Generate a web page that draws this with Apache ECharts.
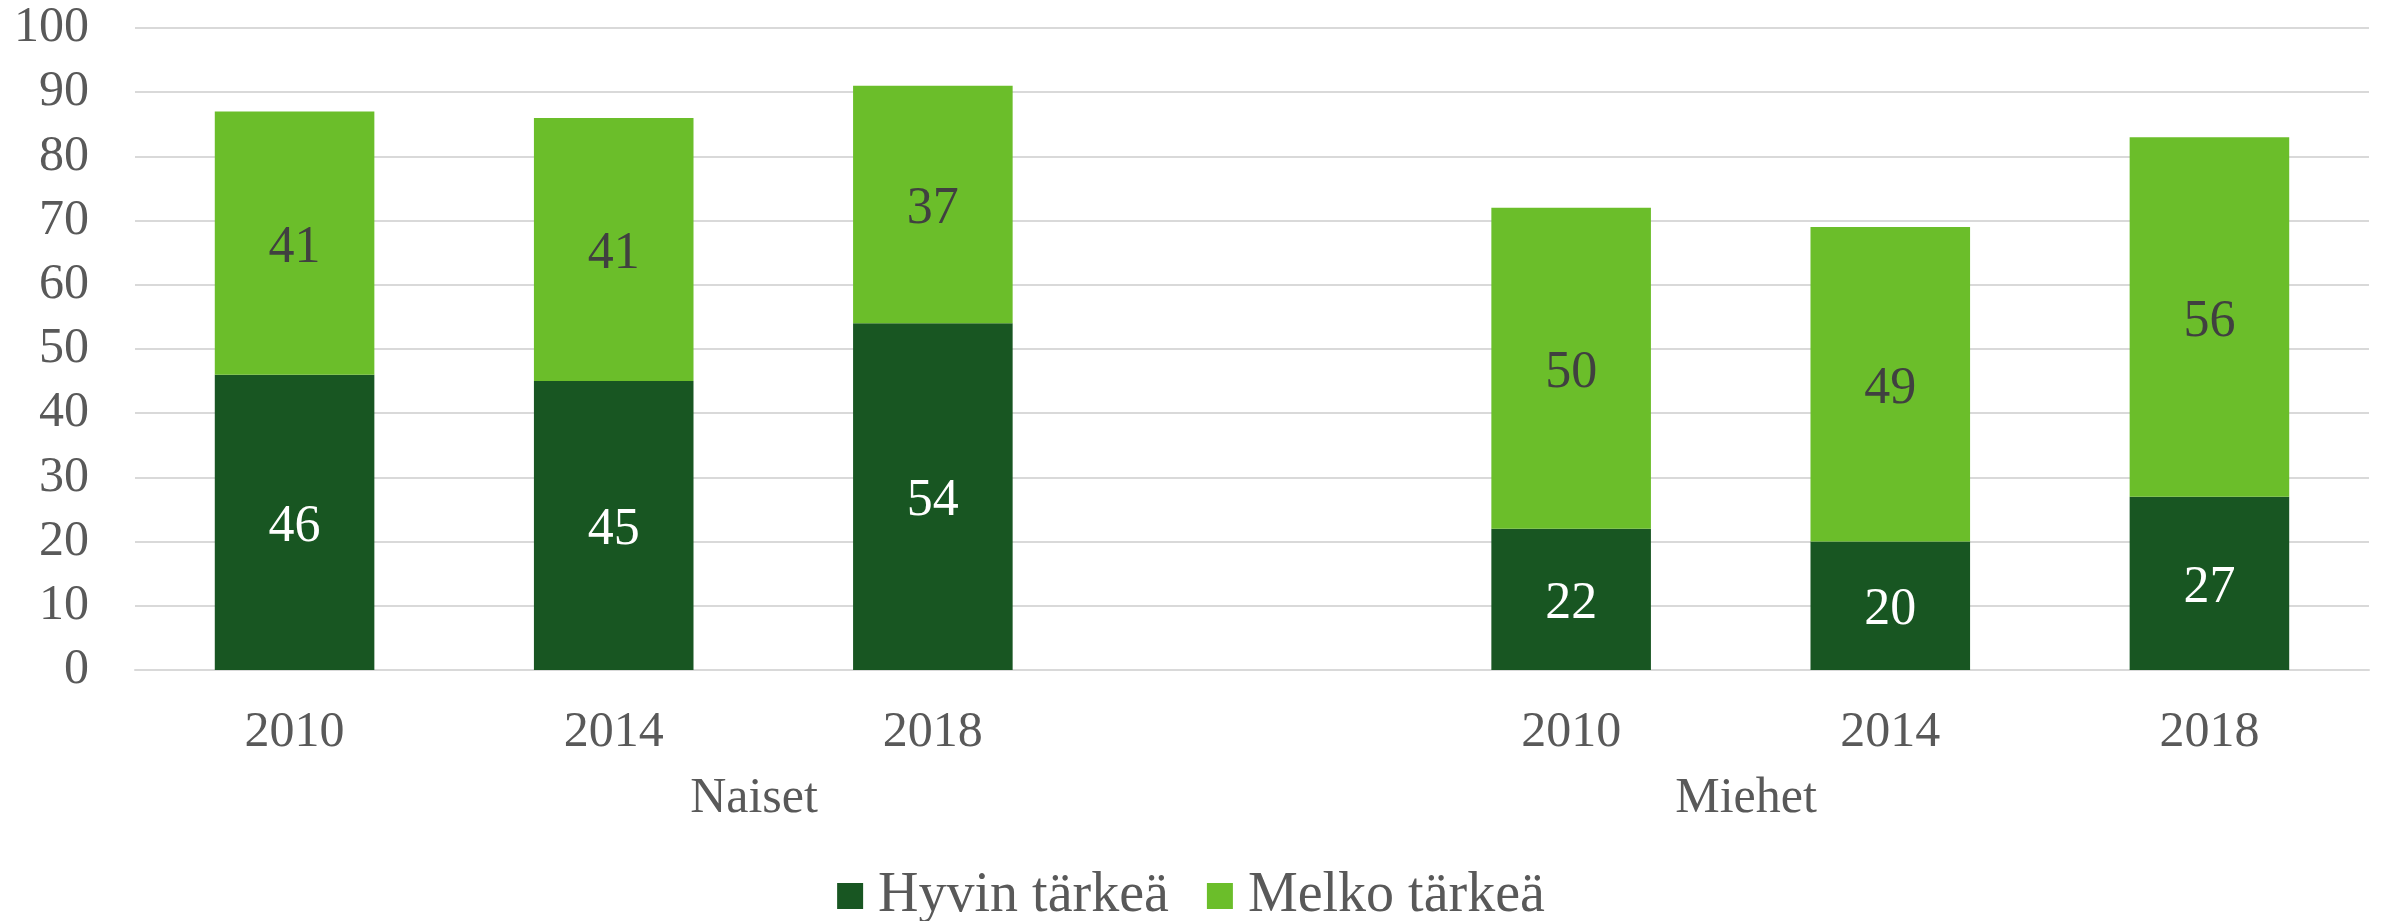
<!DOCTYPE html>
<html>
<head>
<meta charset="utf-8">
<script src="https://cdn.jsdelivr.net/npm/echarts@6/dist/echarts.min.js"></script>
<style>
html,body{margin:0;padding:0;background:#fff;}
#chart{width:2382px;height:921px;}
</style>
</head>
<body>
<div id="chart"></div>
<script>
// years per group, blank slot separates Naiset and Miehet
var categories=['2010','2014','2018','','2010','2014','2018'];
var hyvin=[46,45,54,null,22,20,27];
var melko=[41,41,37,null,50,49,56];
var yTicks=[0,10,20,30,40,50,60,70,80,90,100];
var groups=['Naiset','Miehet'];

var font='"Liberation Serif", serif';
var grey='#595959';

var chart=echarts.init(document.getElementById('chart'));
chart.setOption({
  animation:false,
  textStyle:{fontFamily:font},
  grid:{left:135,right:13,top:28,bottom:251,containLabel:false},
  legend:{
    top:863,left:'center',
    itemWidth:26,itemHeight:26,itemGap:38,
    icon:'rect',
    textStyle:{fontFamily:font,fontSize:56,color:grey,padding:[0,0,0,10]},
    data:['Hyvin tärkeä','Melko tärkeä']
  },
  xAxis:{
    type:'category',
    data:categories,
    axisTick:{show:false},
    axisLine:{lineStyle:{color:'#D9D9D9',width:2}},
    axisLabel:{fontFamily:font,fontSize:50,color:grey,margin:38,interval:0}
  },
  yAxis:{
    type:'value',
    min:yTicks[0],max:yTicks[yTicks.length-1],interval:10,
    axisLine:{show:false},
    axisTick:{show:false},
    splitLine:{lineStyle:{color:'#D9D9D9',width:2}},
    axisLabel:{fontFamily:font,fontSize:50,color:grey,margin:46}
  },
  graphic:[
    {type:'text',x:754,y:799,style:{text:groups[0],fontFamily:font,fontSize:50,fill:grey,textAlign:'center',textVerticalAlign:'middle'}},
    {type:'text',x:1746,y:799,style:{text:groups[1],fontFamily:font,fontSize:50,fill:grey,textAlign:'center',textVerticalAlign:'middle'}}
  ],
  series:[
    {
      name:'Hyvin tärkeä',type:'bar',stack:'a',barWidth:'50%',
      data:hyvin,
      itemStyle:{color:'#185622'},
      label:{show:true,position:'inside',offset:[0,5],fontFamily:font,fontSize:52,color:'#ffffff'}
    },
    {
      name:'Melko tärkeä',type:'bar',stack:'a',barWidth:'50%',
      data:melko,
      itemStyle:{color:'#6BBE2A'},
      label:{show:true,position:'inside',offset:[0,5],fontFamily:font,fontSize:52,color:'#404040'}
    }
  ]
});
</script>
</body>
</html>
